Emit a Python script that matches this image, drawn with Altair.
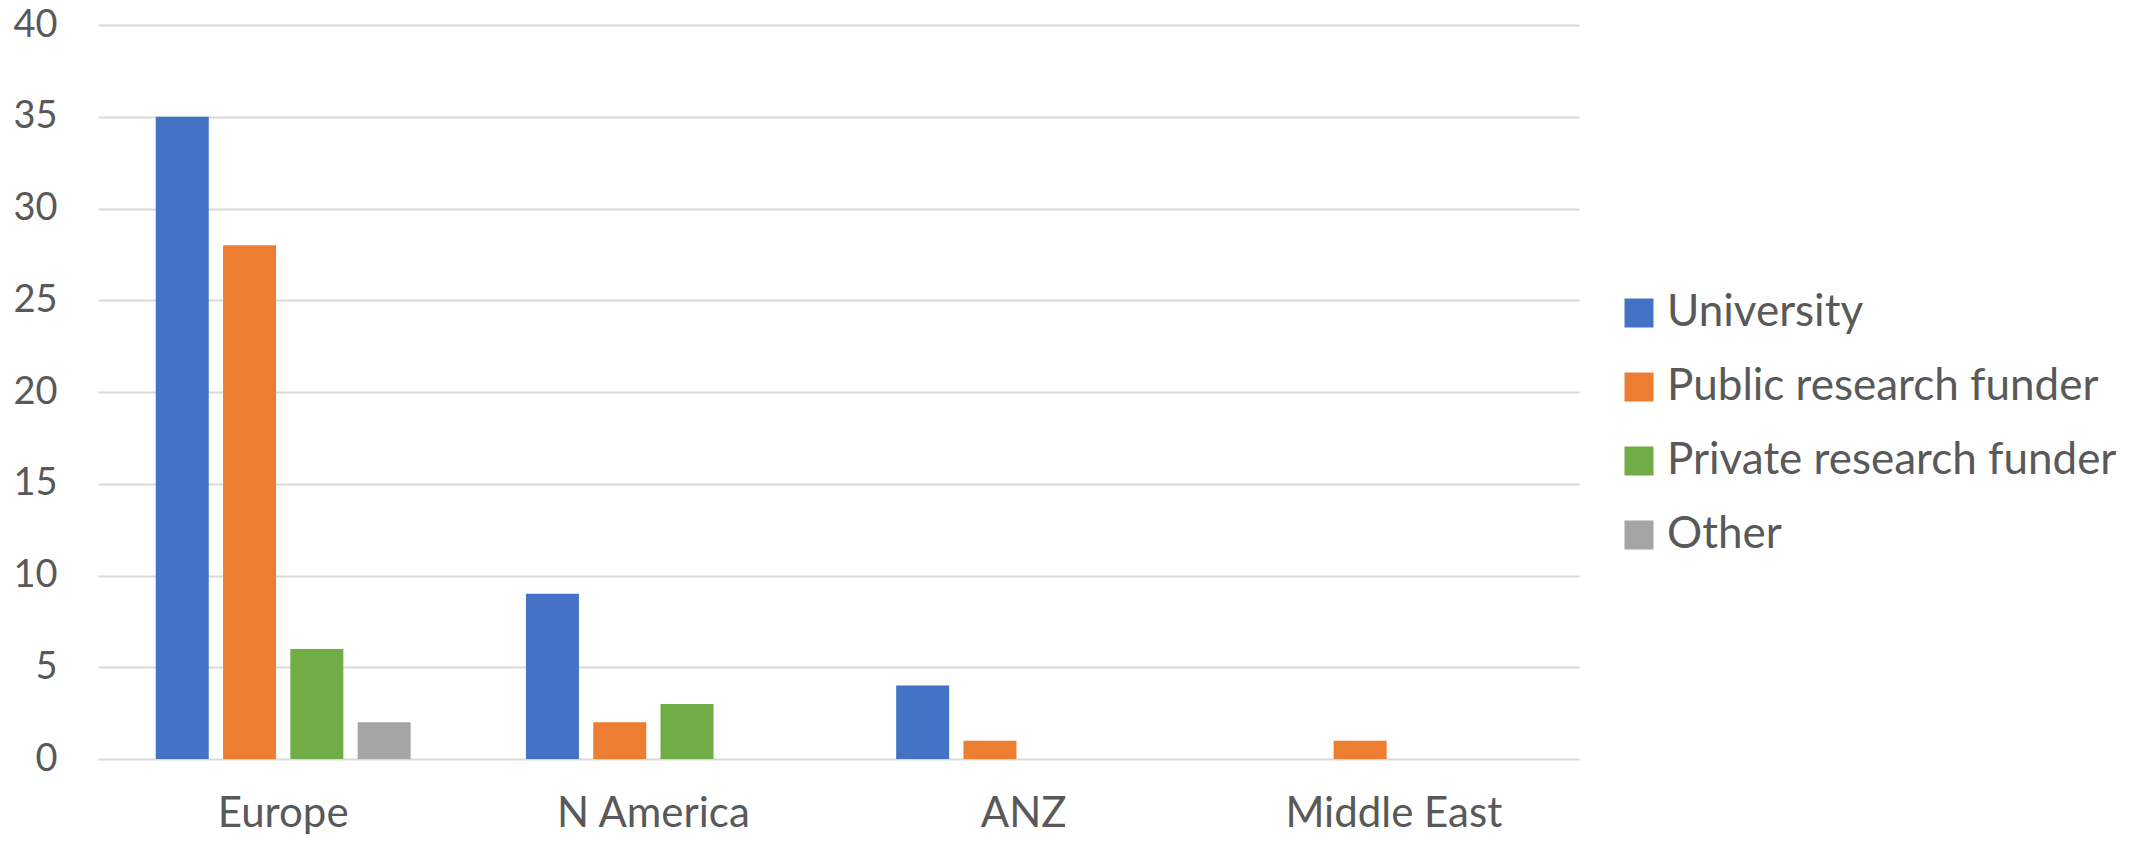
import altair as alt
import pandas as pd

regions = ["Europe", "N America", "ANZ", "Middle East"]
series = ["University", "Public research funder", "Private research funder", "Other"]
colors = ["#4472C4", "#ED7D31", "#70AD47", "#A5A5A5"]

university = [35, 9, 4, 0]
public_funder = [28, 2, 1, 1]
private_funder = [6, 3, 0, 0]
other = [2, 0, 0, 0]

values = {
    "University": university,
    "Public research funder": public_funder,
    "Private research funder": private_funder,
    "Other": other,
}

rows = []
for s in series:
    for r, v in zip(regions, values[s]):
        if v > 0:
            rows.append({"region": r, "type": s, "count": v})
df = pd.DataFrame(rows)

FONT = "Lato"
TXT = "#595959"

chart = (
    alt.Chart(df)
    .mark_bar()
    .encode(
        x=alt.X(
            "region:N",
            sort=regions,
            scale=alt.Scale(domain=regions, paddingInner=0.3115, paddingOuter=0.156),
            axis=alt.Axis(
                title=None,
                labelAngle=0,
                labelFont=FONT,
                labelFontSize=42,
                labelColor=TXT,
                labelPadding=34,
                labelLimit=600,
                ticks=False,
                tickSize=0,
                domain=False,
                grid=False,
            ),
        ),
        xOffset=alt.XOffset(
            "type:N",
            sort=series,
            scale=alt.Scale(domain=series, paddingInner=0.2125, paddingOuter=0),
        ),
        y=alt.Y(
            "count:Q",
            scale=alt.Scale(domain=[0, 40], nice=False),
            axis=alt.Axis(
                title=None,
                values=[0, 5, 10, 15, 20, 25, 30, 35, 40],
                labelFont=FONT,
                labelFontSize=38,
                labelColor=TXT,
                labelPadding=41,
                ticks=False,
                tickSize=0,
                domain=False,
                grid=True,
                gridColor="#d9d9d9",
                gridWidth=2,
            ),
        ),
        color=alt.Color(
            "type:N",
            sort=series,
            scale=alt.Scale(domain=series, range=colors),
            legend=alt.Legend(
                title=None,
                orient="none",
                legendX=1519,
                legendY=266,
                symbolType="square",
                symbolSize=841,
                symbolStrokeWidth=0,
                labelFont=FONT,
                labelFontSize=44,
                labelColor=TXT,
                labelOffset=6,
                rowPadding=30,
                padding=0,
                labelLimit=600,
            ),
        ),
    )
    .properties(
        width=1481,
        height=734,
        autosize=alt.AutoSizeParams(type="none"),
        padding={"left": 90, "top": 17, "right": 557, "bottom": 77},
        background="white",
    )
    .configure_view(strokeWidth=0, stroke="transparent")
)

chart.save("out.html", embed_options={"renderer": "svg", "actions": False})
